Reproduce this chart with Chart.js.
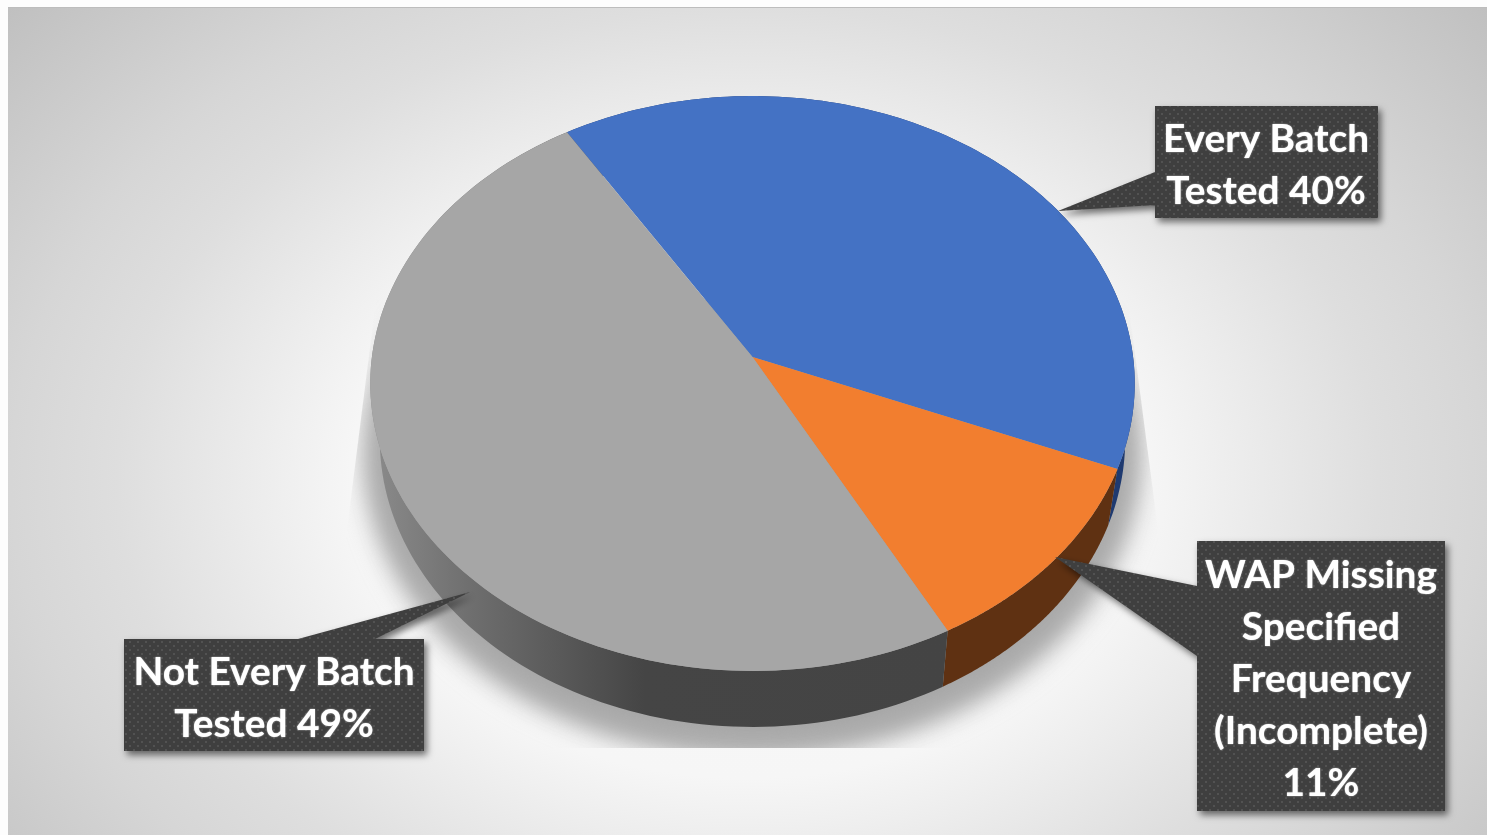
<!DOCTYPE html>
<html>
<head>
<meta charset="utf-8">
<title>Batch testing</title>
<script src="https://cdn.jsdelivr.net/npm/chart.js@4/dist/chart.umd.js"></script>
<style>
  html, body { margin: 0; padding: 0; background: #fdfdfd; overflow: hidden; }
  canvas { display: block; }
</style>
</head>
<body>
<canvas id="pie" width="1487" height="835"></canvas>
<script>
// Slices, clockwise from the back left
const categories = ["Every Batch Tested", "WAP Missing Specified Frequency (Incomplete)", "Not Every Batch Tested"];
const values = [40, 11, 49];
const faceColors = ["#4472c4", "#f27e2f", "#a6a6a6"];
const wallColors = ["#1f3a70", "#5f3112", "#444444"];
const labelLines = [
  ["Every Batch", "Tested {v}%"],
  ["WAP Missing", "Specified", "Frequency", "(Incomplete)", "{v}%"],
  ["Not Every Batch", "Tested {v}%"]
];

// Tilted disc: perspective factor and stretch of the unit circle
const TILT = -0.0922;
const STRETCH_X = 380.6 / 357;
const STRETCH_Y = 285 / 357;
const DEPTH = 56;
const RIM_NARROW = 0.975;

// Callout boxes with the slice edge they point at
const callouts = [
  { box: [1155, 106, 223, 112], textX: 1266, textY: 139, pointer: [[1155, 172], [1058, 211], [1155, 205]] },
  { box: [1197, 541, 248, 270], textX: 1321, textY: 575, pointer: [[1197, 586], [1055, 557], [1197, 656]] },
  { box: [124, 639, 300, 112], textX: 274, textY: 672, pointer: [[298, 639], [470, 592], [375, 639]] }
];
const LINE_HEIGHT = 52;

function project(el, angle, lower) {
  const u = Math.cos(angle);
  const v = Math.sin(angle);
  const w = 1 + TILT * v;
  const sx = lower ? STRETCH_X * RIM_NARROW : STRETCH_X;
  return {
    x: el.x + sx * el.outerRadius * u / w,
    y: el.y + (lower ? DEPTH : 0) + STRETCH_Y * el.outerRadius * v / w
  };
}

function traceRim(ctx, el, from, to, lower, first) {
  const steps = 120;
  for (let i = 0; i <= steps; i++) {
    const p = project(el, from + (to - from) * i / steps, lower);
    if (i === 0 && first) ctx.moveTo(p.x, p.y);
    else ctx.lineTo(p.x, p.y);
  }
}

function dotPattern(ctx) {
  const c = document.createElement("canvas");
  c.width = 8;
  c.height = 8;
  const g = c.getContext("2d");
  g.fillStyle = "#3f3f3f";
  g.fillRect(0, 0, 8, 8);
  g.fillStyle = "#525252";
  g.fillRect(1, 1, 2, 2);
  g.fillRect(5, 5, 2, 2);
  return ctx.createPattern(c, "repeat");
}

const slide = {
  id: "slide",
  beforeDraw(chart) {
    const ctx = chart.ctx;
    ctx.save();
    ctx.fillStyle = "#fdfdfd";
    ctx.fillRect(0, 0, 1487, 835);
    // panel with a soft radial fade to grey
    ctx.beginPath();
    ctx.rect(8, 7, 1479, 828);
    ctx.clip();
    ctx.save();
    ctx.translate(748, 480);
    ctx.scale(1, 0.75);
    const bg = ctx.createRadialGradient(0, 0, 0, 0, 0, 970);
    bg.addColorStop(0, "#f9f9f9");
    bg.addColorStop(0.41, "#f6f6f6");
    bg.addColorStop(0.49, "#eeeeee");
    bg.addColorStop(0.65, "#dedede");
    bg.addColorStop(0.76, "#d6d6d6");
    bg.addColorStop(1, "#c0c0c0");
    ctx.fillStyle = bg;
    ctx.fillRect(-800, -800, 1600, 1600);
    ctx.restore();
    ctx.fillStyle = "#bdbdbd";
    ctx.fillRect(8, 7, 1479, 1);
    ctx.restore();
  },
  beforeDatasetsDraw(chart) {
    const ctx = chart.ctx;
    const arcs = chart.getDatasetMeta(0).data;
    const first = arcs[0];

    // contact shadow, cut off like a cast reflection
    ctx.save();
    ctx.beginPath();
    ctx.moveTo(376, 300);
    ctx.lineTo(345, 545);
    ctx.lineTo(345, 748);
    ctx.lineTo(1160, 748);
    ctx.lineTo(1160, 545);
    ctx.lineTo(1128, 300);
    ctx.closePath();
    ctx.clip();
    ctx.translate(0, 14);
    ctx.filter = "blur(14px)";
    ctx.strokeStyle = "#a0a0a0";
    ctx.fillStyle = "#a0a0a0";
    ctx.lineWidth = 26;
    ctx.beginPath();
    traceRim(ctx, first, 0, Math.PI * 2, true, true);
    ctx.closePath();
    ctx.fill();
    ctx.stroke();
    ctx.restore();

    // side walls first, faces on top
    arcs.forEach((el, i) => {
      ctx.beginPath();
      traceRim(ctx, el, el.startAngle, el.endAngle, false, true);
      traceRim(ctx, el, el.endAngle, el.startAngle, true, false);
      ctx.closePath();
      if (i === 2) {
        const g = ctx.createLinearGradient(375, 0, 948, 0);
        g.addColorStop(0, "#8a8a8a");
        g.addColorStop(0.17, "#6e6e6e");
        g.addColorStop(0.47, "#454545");
        g.addColorStop(1, wallColors[i]);
        ctx.fillStyle = g;
      } else {
        ctx.fillStyle = wallColors[i];
      }
      ctx.fill();
    });

    arcs.forEach(el => {
      ctx.beginPath();
      ctx.moveTo(el.x, el.y);
      traceRim(ctx, el, el.startAngle, el.endAngle, false, false);
      ctx.closePath();
      ctx.fillStyle = el.options.backgroundColor;
      ctx.fill();
    });

    // the library's own flat arcs are replaced by the tilted ones above
    return false;
  },
  afterDraw(chart) {
    const ctx = chart.ctx;
    const pattern = dotPattern(ctx);
    callouts.forEach((c, i) => {
      const [x, y, w, h] = c.box;
      ctx.save();
      ctx.shadowColor = "rgba(0,0,0,0.55)";
      ctx.shadowBlur = 7;
      ctx.shadowOffsetX = 3;
      ctx.shadowOffsetY = 4;
      ctx.fillStyle = pattern;
      ctx.beginPath();
      ctx.rect(x, y, w, h);
      ctx.moveTo(c.pointer[0][0], c.pointer[0][1]);
      ctx.lineTo(c.pointer[1][0], c.pointer[1][1]);
      ctx.lineTo(c.pointer[2][0], c.pointer[2][1]);
      ctx.closePath();
      ctx.fill("nonzero");
      ctx.restore();

      ctx.save();
      ctx.fillStyle = "#ffffff";
      ctx.font = "bold 38.8px Lato, 'Open Sans', sans-serif";
      ctx.textAlign = "center";
      ctx.textBaseline = "middle";
      // a thin glow makes the strokes a little heavier
      ctx.shadowColor = "rgba(255,255,255,0.8)";
      ctx.shadowBlur = 1.5;
      labelLines[i].forEach((line, n) => {
        ctx.fillText(line.replace("{v}", values[i]), c.textX, c.textY + n * LINE_HEIGHT);
      });
      ctx.restore();
    });
  }
};

new Chart(document.getElementById("pie"), {
  type: "pie",
  data: {
    labels: categories,
    datasets: [{ data: values, backgroundColor: faceColors, borderWidth: 0 }]
  },
  options: {
    responsive: false,
    animation: false,
    rotation: -31.7,
    layout: { padding: { left: 18, right: 0, top: 0, bottom: 121 } },
    plugins: { legend: { display: false }, tooltip: { enabled: false } }
  },
  plugins: [slide]
});
</script>
</body>
</html>
